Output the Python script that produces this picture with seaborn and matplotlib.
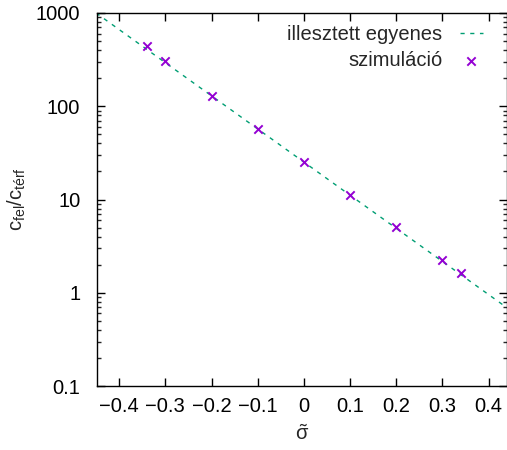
import matplotlib
matplotlib.use("Agg")
import matplotlib.pyplot as plt
import seaborn as sns
import pandas as pd
from matplotlib.ticker import LogLocator, FixedLocator, NullFormatter

sim_x = [-0.34, -0.3, -0.2, -0.1, 0.0, 0.1, 0.2, 0.3, 0.34]
sim_y = [440, 305, 129, 57, 25.2, 11.2, 5.07, 2.24, 1.63]
fit_x = [-0.45, 0.44]
fit_y = [1000, 0.69]
xticks = [-0.4, -0.3, -0.2, -0.1, 0, 0.1, 0.2, 0.3, 0.4]
yticks = [0.1, 1, 10, 100, 1000]
ytick_labels = ["0.1", "1", "10", "100", "1000"]

sns.set_style("ticks")
plt.rcParams['font.family'] = ['Liberation Sans', 'DejaVu Sans']
plt.rcParams['mathtext.default'] = 'regular'
FS = 14.5

fig = plt.figure(figsize=(5.07, 4.5), dpi=100)
ax = fig.add_axes([97/507, 1 - 386/450, (507 - 97)/507, (386 - 13)/450])

fit_df = pd.DataFrame({"x": fit_x, "y": fit_y})
sim_df = pd.DataFrame({"x": sim_x, "y": sim_y})

sns.lineplot(data=fit_df, x="x", y="y", ax=ax, color="#009e73", lw=1.0,
             dashes=False, linestyle=(0, (3, 4)), label="illesztett egyenes")
sns.scatterplot(data=sim_df, x="x", y="y", ax=ax, marker="x", color="#9400d3",
                s=36, linewidth=1.4, label="szimuláció", zorder=3)

ax.set_yscale("log")
ax.set_xlim(-0.448, 0.44)
ax.set_ylim(0.1, 1000)
ax.set_xticks(xticks)
ax.set_xticklabels([("−" if v < 0 else "") + (f"{abs(v):g}") for v in xticks])
ax.yaxis.set_major_locator(FixedLocator(yticks))
ax.set_yticklabels(ytick_labels)
ax.yaxis.set_minor_locator(LogLocator(base=10, subs=range(2, 10)))
ax.yaxis.set_minor_formatter(NullFormatter())

for s in ["top", "right", "left", "bottom"]:
    ax.spines[s].set_visible(True)
    ax.spines[s].set_linewidth(1.0)
    ax.spines[s].set_color("black")

ax.tick_params(which="major", direction="in", length=6, width=1, top=True, right=True,
               labelsize=FS, colors="black")
ax.tick_params(axis="x", pad=8)
ax.tick_params(which="minor", direction="in", length=3, width=1, top=False, right=True, left=True)
ax.tick_params(axis="y", pad=12)

ax.set_xlabel(r"$\tilde{\sigma}$", fontsize=FS, labelpad=6)
ax.set_ylabel(r"$c_{fel}/c_{térf}$", fontsize=FS, labelpad=6)

ax.legend(loc="upper right", frameon=False, markerfirst=False, fontsize=FS,
          handlelength=1.1, handletextpad=0.9, borderaxespad=0.0, labelspacing=0.35,
          bbox_to_anchor=(0.96, 0.99))

fig.savefig("out.png", dpi=100)
